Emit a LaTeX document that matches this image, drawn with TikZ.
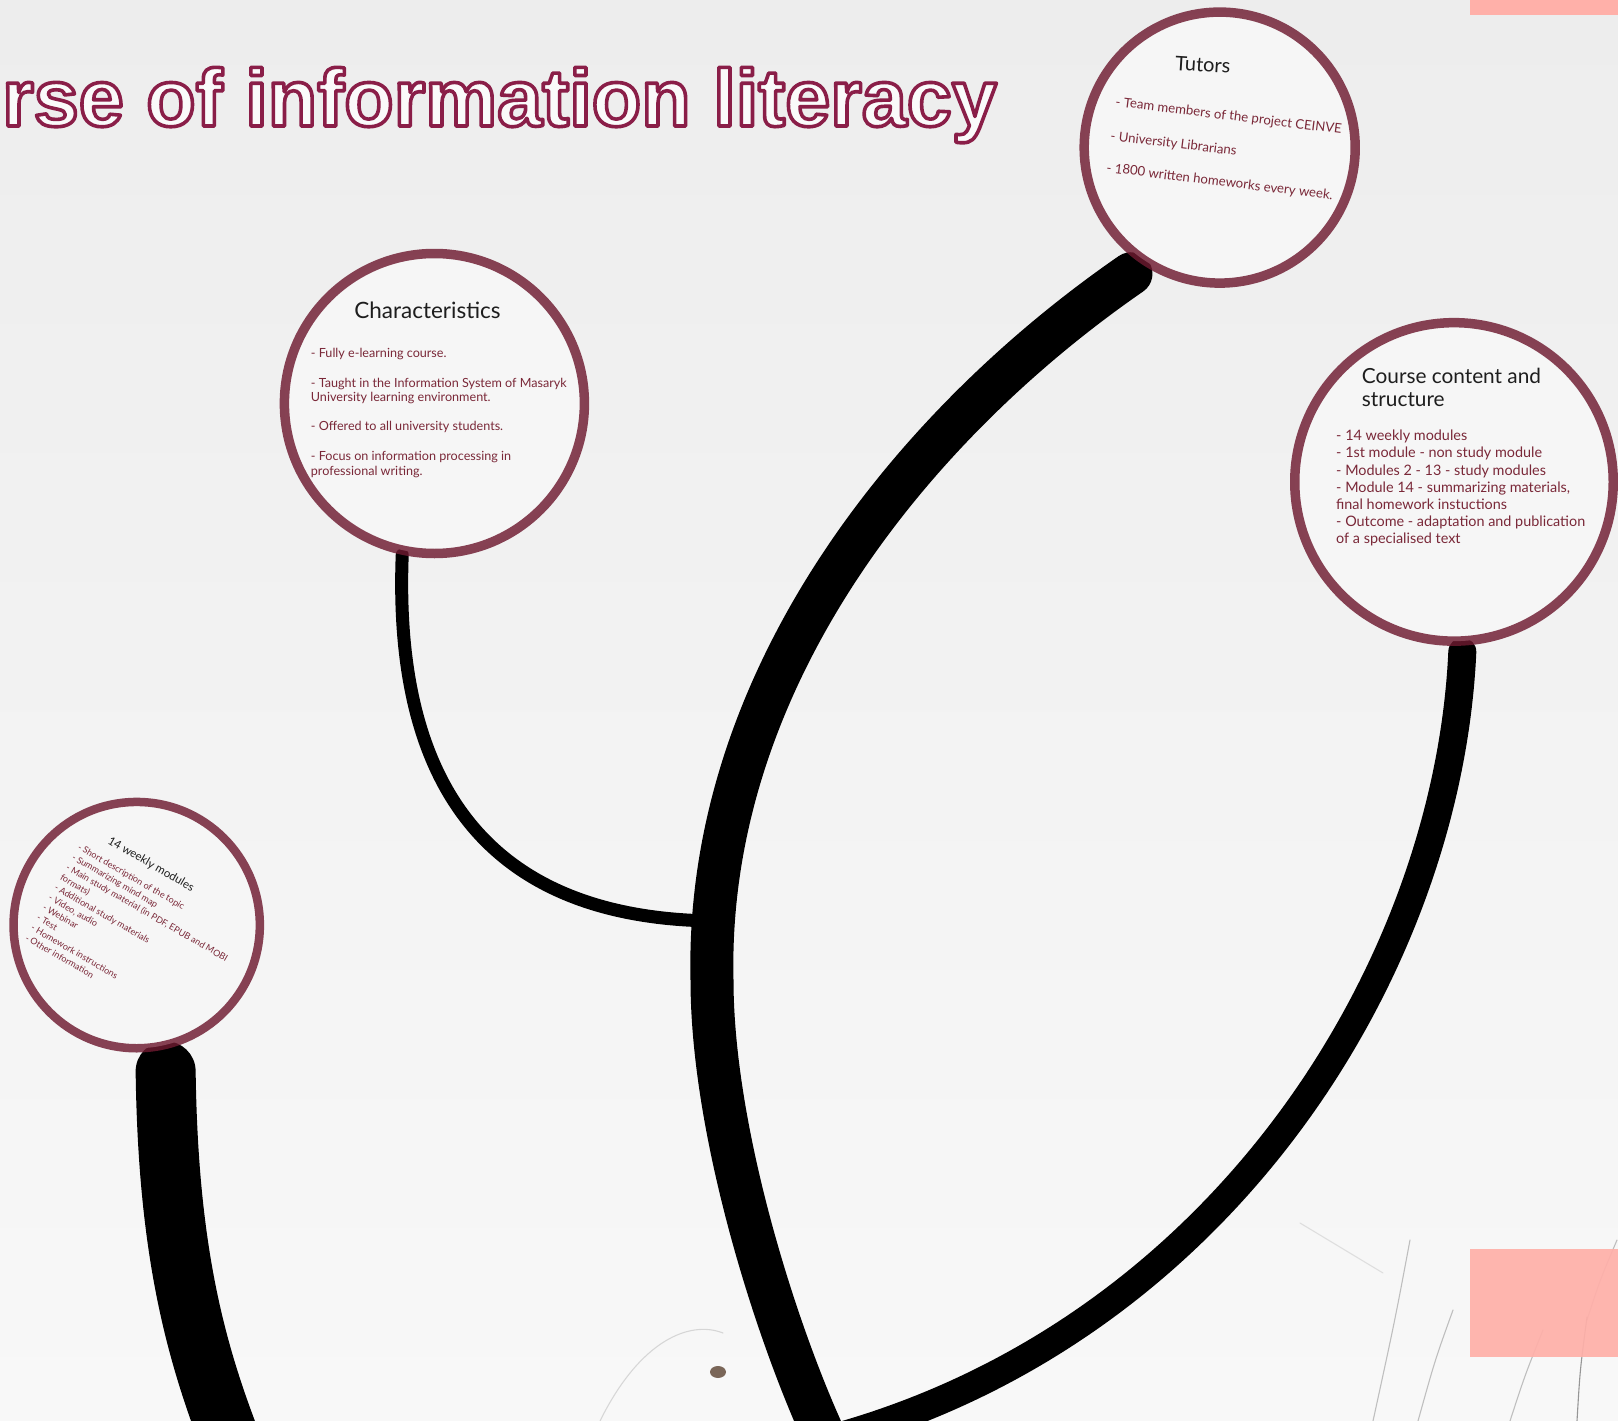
\documentclass[tikz,border=0pt]{standalone}
\usepackage{fontspec}
\setmainfont{Lato}
\newfontfamily\titlefont{Liberation Sans}
\usetikzlibrary{calc}
\pgfdeclarelayer{back}
\pgfdeclarelayer{stems}
\pgfsetlayers{back,stems,main}
\definecolor{bgtop}{HTML}{EDEDED}
\definecolor{bgbot}{HTML}{F8F8F8}
\definecolor{bubblefill}{HTML}{F6F6F6}
\definecolor{ringc}{HTML}{6E1A30}
\definecolor{bodyc}{HTML}{7A2838}
\definecolor{headc}{HTML}{1E1E1E}
\definecolor{titlec}{HTML}{8A1E48}
\definecolor{pinkc}{HTML}{FFB0A9}
\definecolor{grassc}{HTML}{555555}
\definecolor{smudgec}{HTML}{7A6658}
\newcommand{\outlined}[1]{\special{pdf:literal direct 2 Tr 3.6 w 1 j 0.541 0.118 0.282 RG 0.98 0.98 0.98 rg}#1\special{pdf:literal direct 0 Tr}}
\begin{document}
\begin{tikzpicture}[x=1pt,y=-1pt,
  bubble/.style={circle, draw=ringc, draw opacity=0.82, fill=bubblefill, inner sep=0pt},
  stem/.style={draw=black, line cap=round},
  head/.style={text=headc, inner sep=0pt},
  body/.style={text=bodyc, inner sep=0pt, anchor=base west},
  grass/.style={draw=grassc, line width=1.1pt, draw opacity=0.35, line cap=round}]
\useasboundingbox (0,0) rectangle (1618,1421);
\begin{pgfonlayer}{back}
  \fill[top color=bgtop, bottom color=bgbot] (0,0) rectangle (1618,1421);
  \draw[grass] (1410,1240) .. controls (1395,1320) .. (1373,1421);
  \draw[grass] (1453,1310) .. controls (1435,1360) .. (1418,1421);
  \draw[grass] (1543,1330) .. controls (1525,1375) .. (1510,1421);
  \draw[grass, draw opacity=0.6] (1587,1317) .. controls (1580,1370) .. (1577,1421);
  \draw[grass] (1617,1240) .. controls (1600,1280) .. (1587,1320);
  \draw[grass, draw opacity=0.15] (1300,1223) -- (1383,1273);
  \draw[grass, draw opacity=0.2] (600,1421) .. controls (640,1340) and (690,1320) .. (723,1333);
  \fill[smudgec] (718,1372) ellipse (8pt and 6pt);
\end{pgfonlayer}

% bubbles
\node[bubble, line width=9.5pt, minimum size=271pt] (tutors) at (1219.7,147.6) {};
\node[bubble, line width=9.5pt, minimum size=300pt] (chars) at (434.4,403.5) {};
\node[bubble, line width=9.5pt, minimum size=318.5pt] (course) at (1454,481.9) {};
\node[bubble, line width=8.5pt, minimum size=246.3pt] (weekly) at (136.7,925.1) {};

\coordinate (trunkmid) at (712,980);
\coordinate (trunkend) at (826,1440);
\coordinate (charend) at (720,921);
\coordinate (wkend) at (232,1445);

\begin{pgfonlayer}{stems}
  \draw[stem, line width=43pt, shorten <=15pt] (tutors.237) .. controls (912,425) and (705,680) .. (trunkmid) .. controls (712,1130) and (775,1330) .. (trunkend);
  \draw[stem, line width=28pt, shorten <=6pt] (course.273) .. controls (1448,970) and (1220,1335) .. (trunkend);
  \draw[stem, line width=13pt] (chars.258) .. controls (392,820) and (520,921) .. (charend);
  \draw[stem, line width=60pt, shorten <=22pt] (weekly.283) .. controls (168,1250) and (195,1350) .. (wkend);
\end{pgfonlayer}

% title
\node[anchor=base west, inner sep=0pt, text=titlec] (title) at (2,126)
  {\titlefont\bfseries\fontsize{81}{90}\selectfont\outlined{rse of information literacy}};

% Tutors
\node[head, anchor=base, rotate=-3.5, font=\fontsize{20}{24}\selectfont] (tutorshead) at (1202.5,71.7) {Tutors};
\foreach \x/\y/\t [count=\i] in {1115/106/- Team members of the project CEINVE, 1110/140/- University Librarians, 1106/172/- 1800 written homeworks every week.}
  \node[body, rotate=-7, font=\fontsize{13.2}{15}\selectfont] (tut\i) at (\x,\y) {\t};

% Characteristics
\node[head, anchor=base, font=\fontsize{22.5}{26}\selectfont] (charshead) at (427.5,318.5) {Characteristics};
\foreach \y/\t [count=\i] in {357/- Fully e-learning course., 387.3/- Taught in the Information System of Masaryk, 401.7/University learning environment., 430.7/- Offered to all university students., 460/- Focus on information processing in, 475/professional writing.}
  \node[body, font=\fontsize{12.6}{14}\selectfont] (ch\i) at (310.7,\y) {\t};

% Course content and structure
\node[head, anchor=base west, font=\fontsize{20.8}{24}\selectfont] (coursehead1) at (1361.7,383.3) {Course content and};
\node[head, anchor=base west, font=\fontsize{20.8}{24}\selectfont] (coursehead2) at (1361.7,406.7) {structure};
\foreach \t [count=\i] in {- 14 weekly modules, - 1st module - non study module, - Modules 2 - 13 - study modules, {- Module 14 - summarizing materials,}, final homework instuctions, - Outcome - adaptation and publication, of a specialised text}
  \node[body, font=\fontsize{14.4}{17}\selectfont] (cc\i) at (1336,{440.7+17.2*(\i-1)}) {\t};

% 14 weekly modules
\node[head, anchor=base west, rotate=-30, font=\fontsize{11.5}{13}\selectfont] (weeklyhead) at (107,843) {14 weekly modules};
\foreach \t [count=\i] in {- Short description of the topic, - Summarizing mind map, {- Main study material (in PDF, EPUB and MOBI}, formats), - Additional study materials, {- Video, audio}, - Webinar, - Test, - Homework instructions, - Other information}
  \node[body, rotate=-30, font=\fontsize{9}{10}\selectfont] (wk\i) at ({77-5.85*(\i-1)},{849+10.1*(\i-1)}) {\t};

% pink blocks
\fill[pinkc] (1470,0) rectangle (1618,15.5);
\fill[pinkc, opacity=0.93] (1470,1249) rectangle (1618,1357);
\end{tikzpicture}
\end{document}
